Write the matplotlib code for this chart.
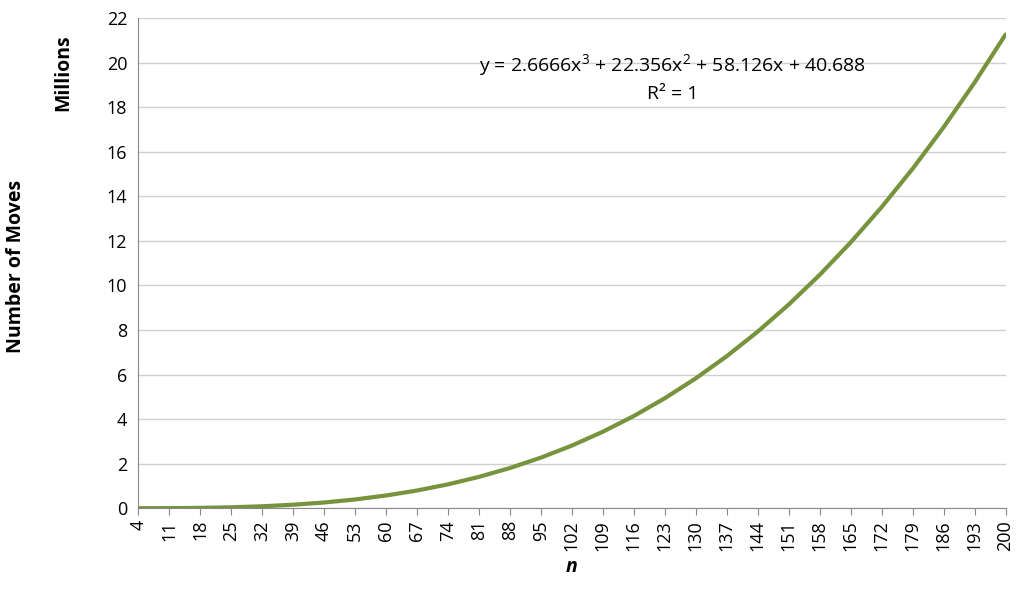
import matplotlib
matplotlib.use("Agg")
import matplotlib.pyplot as plt

n_ticks = list(range(4, 201, 7))
moves_millions = [0.0001, 0.003, 0.015, 0.041, 0.086, 0.156, 0.256, 0.392, 0.570, 0.794,
                  1.071, 1.406, 1.804, 2.271, 2.812, 3.433, 4.140, 4.937, 5.830, 6.826,
                  7.928, 9.143, 10.476, 11.933, 13.519, 15.240, 17.102, 19.110, 21.266]

plt.rcParams['font.family'] = ['Open Sans', 'DejaVu Sans']
plt.rcParams['mathtext.fontset'] = 'custom'
plt.rcParams['mathtext.rm'] = 'Open Sans'
fig = plt.figure(figsize=(10.24, 6.05), dpi=100)
ax = fig.add_axes([0.135, 0.16, 0.847, 0.81])
ax.plot(n_ticks, moves_millions, color='#77933C', lw=3, solid_capstyle='round')
ax.set_xlim(4, 200)
ax.set_ylim(0, 22)
ax.set_yticks(range(0, 23, 2))
ax.set_xticks(n_ticks)
ax.set_xticklabels([str(v) for v in n_ticks], rotation=90, fontsize=13)
ax.tick_params(axis='y', labelsize=13, length=0, pad=8)
ax.tick_params(axis='x', length=5, color='#888888')
ax.grid(axis='y', color='#d0d0d0', lw=1)
ax.set_axisbelow(True)
for s in ['top', 'right']:
    ax.spines[s].set_visible(False)
ax.spines['left'].set_color('#888888')
ax.spines['bottom'].set_color('#888888')
ax.set_xlabel('n', fontsize=14, fontweight='bold', style='italic', labelpad=4)
fig.text(0.016, 0.56, 'Number of Moves', rotation=90, fontsize=14, fontweight='bold', va='center', ha='center')
fig.text(0.062, 0.88, 'Millions', rotation=90, fontsize=14, fontweight='bold', va='center', ha='center')
ax.text(0.616, 0.878, 'y = 2.6666x$^\\mathregular{3}$ + 22.356x$^\\mathregular{2}$ + 58.126x + 40.688\nR² = 1',
        transform=ax.transAxes, ha='center', va='center', fontsize=14, linespacing=1.4)
fig.savefig('out.png', dpi=100)
